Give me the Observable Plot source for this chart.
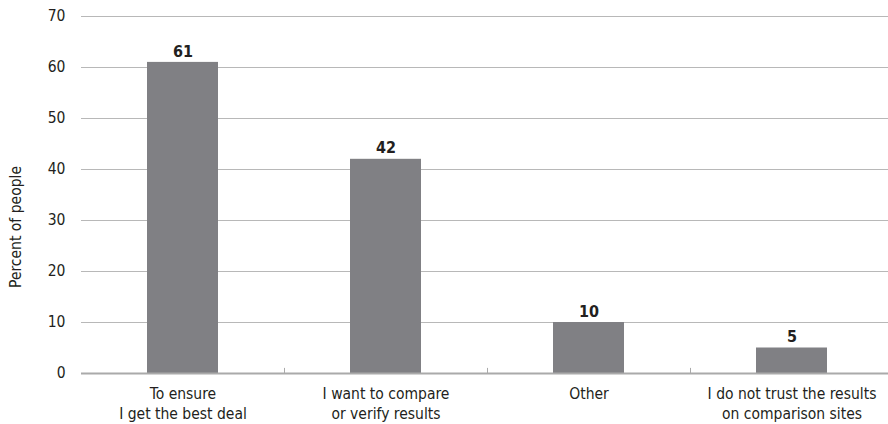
<!DOCTYPE html>
<html>
<head>
<meta charset="utf-8">
<script src="https://cdn.jsdelivr.net/npm/d3@7"></script>
<script src="https://cdn.jsdelivr.net/npm/@observablehq/plot@0.6"></script>
<style>
  html, body { margin: 0; padding: 0; background: #fff; }
  #chart svg { display: block; }
</style>
</head>
<body>
<div id="chart"></div>
<script>
const categories = [
  "To ensure\nI get the best deal",
  "I want to compare\nor verify results",
  "Other",
  "I do not trust the results\non comparison sites"
];
const values = [61, 42, 10, 5];
const yTicks = [0, 10, 20, 30, 40, 50, 60, 70];
const yLabel = "Percent of people";

const data = categories.map((c, i) => ({category: c, value: values[i]}));

const W = 888, H = 424;
const mL = 81, mR = -5, mT = 16, mB = 51;
const bandW = (W - mL - mR) / categories.length;
const font = "'DejaVu Sans Condensed', 'Liberation Sans Narrow', sans-serif";
const textColor = "#231f20";

const chart = Plot.plot({
  width: W,
  height: H,
  marginLeft: mL,
  marginRight: mR,
  marginTop: mT,
  marginBottom: mB,
  style: {fontFamily: font, fontSize: "15px", color: textColor, background: "#fff"},
  x: {domain: categories, padding: 0},
  y: {domain: [0, 70], ticks: yTicks},
  marks: [
    Plot.gridY(yTicks.filter(d => d > 0), {stroke: "#b8b8b8", strokeOpacity: 1, strokeWidth: 1}),
    Plot.axisY({ticks: yTicks, tickSize: 0, tickPadding: 16, label: null, fontSize: 15.5, fill: textColor}),
    Plot.axisX({tickSize: 0, tickPadding: 12, label: null, lineHeight: 1.27, fontSize: 15.5, fill: textColor}),
    Plot.text([yLabel], {frameAnchor: "left", textAnchor: "middle", rotate: -90, dx: -65, dy: 32, fontSize: 15.5, fill: textColor}),
    Plot.barY(data, {x: "category", y: "value", fill: "#808084", insetLeft: 66, insetRight: 66}),
    Plot.ruleY([0], {stroke: "#aaaaaa", strokeWidth: 2}),
    Plot.ruleX(categories.slice(1), {x: d => d, y1: 0, y2: 1, dx: -bandW / 2, stroke: "#aaaaaa", strokeWidth: 1}),
    Plot.text(data, {x: "category", y: "value", text: d => String(d.value), dy: -11, fontWeight: "bold", fontSize: 16, fill: textColor})
  ]
});
document.getElementById("chart").appendChild(chart);
</script>
</body>
</html>
